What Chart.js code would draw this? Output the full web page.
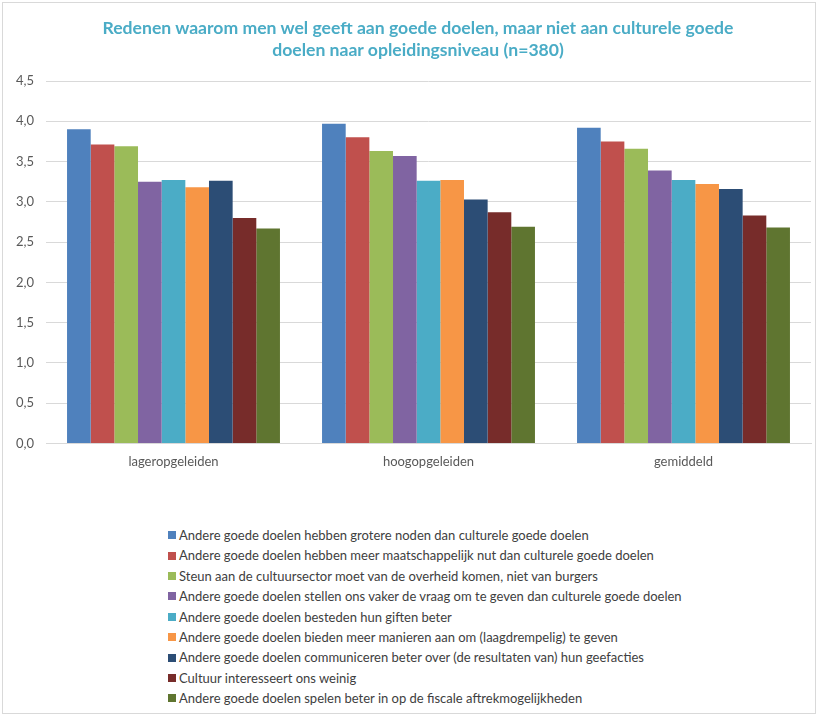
<!DOCTYPE html>
<html lang="nl">
<head>
<meta charset="utf-8">
<title>Redenen waarom men wel geeft aan goede doelen</title>
<script src="https://cdn.jsdelivr.net/npm/chart.js@4"></script>
<style>
  html, body { margin: 0; padding: 0; background: #fff; }
  #frame {
    position: absolute; left: 2px; top: 2px; width: 814px; height: 712px;
    border: 1px solid #D9D9D9; box-sizing: border-box;
  }
  #title {
    position: absolute; left: 0; top: 17px; width: 836px; text-align: center;
    font-family: Lato, "Open Sans", sans-serif; font-weight: bold; font-size: 17.6px;
    line-height: 22.4px; color: #4AACC6; white-space: nowrap;
  }
  #wrap { position: absolute; left: 0; top: 0; width: 819px; height: 489px; }
  #legend {
    position: absolute; left: 168px; top: 525px;
    font-family: Lato, "Open Sans", sans-serif; font-size: 13px; color: #404040;
  }
  #legend .row { height: 20.4px; line-height: 20.4px; white-space: nowrap; display: flex; align-items: center; }
  #legend .box { width: 8px; height: 8px; margin-right: 3px; flex: none; }
</style>
</head>
<body>
<div id="frame"></div>
<div id="wrap"><canvas id="chart" width="819" height="489"></canvas></div>
<div id="title"></div>
<div id="legend"></div>
<script>
// Opleidingsniveau-groepen op de x-as
const categories = ['lageropgeleiden', 'hoogopgeleiden', 'gemiddeld'];

// Redenen (één reeks per reden)
const reasons = [
  'Andere goede doelen hebben grotere noden dan culturele goede doelen',
  'Andere goede doelen hebben meer maatschappelijk nut dan culturele goede doelen',
  'Steun aan de cultuursector moet van de overheid komen, niet van burgers',
  'Andere goede doelen stellen ons vaker de vraag om te geven dan culturele goede doelen',
  'Andere goede doelen besteden hun giften beter',
  'Andere goede doelen bieden meer manieren aan om (laagdrempelig) te geven',
  'Andere goede doelen communiceren beter over (de resultaten van) hun geefacties',
  'Cultuur interesseert ons weinig',
  'Andere goede doelen spelen beter in op de fiscale aftrekmogelijkheden'
];

// Gemiddelde scores per groep, in de volgorde van de redenen
const valuesLager      = [3.90, 3.71, 3.69, 3.25, 3.27, 3.18, 3.26, 2.80, 2.67];
const valuesHoog       = [3.97, 3.80, 3.63, 3.57, 3.26, 3.27, 3.03, 2.87, 2.69];
const valuesGemiddeld  = [3.92, 3.75, 3.66, 3.39, 3.27, 3.22, 3.16, 2.83, 2.68];

// Y-as
const yMin = 0, yMax = 4.5, yStep = 0.5;

const chartTitle = [
  'Redenen waarom men wel geeft aan goede doelen, maar niet aan culturele goede',
  'doelen naar opleidingsniveau (n=380)'
];

const palette = ['#4F81BD', '#C0504D', '#9BBB59', '#8064A2', '#4BACC6',
                 '#F79646', '#2C4D75', '#772C2A', '#5F7530'];

// Titel boven de grafiek (twee regels)
const titleEl = document.getElementById('title');
chartTitle.forEach(line => {
  const d = document.createElement('div');
  d.textContent = line;
  titleEl.appendChild(d);
});

const groups = [valuesLager, valuesHoog, valuesGemiddeld];
const datasets = reasons.map((label, i) => ({
  label,
  data: groups.map(g => g[i]),
  backgroundColor: palette[i],
  borderWidth: 0,
  barPercentage: 1.0,
  categoryPercentage: 0.835
}));

const fmt = v => v.toFixed(1).replace('.', ',');

new Chart(document.getElementById('chart'), {
  type: 'bar',
  data: { labels: categories, datasets },
  options: {
    responsive: false,
    animation: false,
    layout: { padding: { left: 0, right: 8, top: 81, bottom: 8 } },
    plugins: {
      legend: { display: false },
      tooltip: { enabled: false },
      title: { display: false }
    },
    scales: {
      x: {
        grid: { display: false, drawTicks: false },
        border: { display: true, color: '#D9D9D9' },
        ticks: { color: '#595959', padding: 11, font: { family: 'Lato, "Open Sans", sans-serif', size: 13 } }
      },
      y: {
        min: yMin, max: yMax,
        afterFit: s => { s.width = 46; },
        grid: { color: '#D9D9D9', drawTicks: false },
        border: { display: false },
        ticks: {
          stepSize: yStep, color: '#595959', padding: 12,
          font: { family: 'Lato, "Open Sans", sans-serif', size: 13 },
          callback: v => fmt(v)
        }
      }
    }
  }
});

// Legenda als één kolom onder de grafiek
const legend = document.getElementById('legend');
reasons.forEach((label, i) => {
  const row = document.createElement('div');
  row.className = 'row';
  const box = document.createElement('span');
  box.className = 'box';
  box.style.background = palette[i];
  const txt = document.createElement('span');
  txt.textContent = label;
  row.appendChild(box);
  row.appendChild(txt);
  legend.appendChild(row);
});
</script>
</body>
</html>
